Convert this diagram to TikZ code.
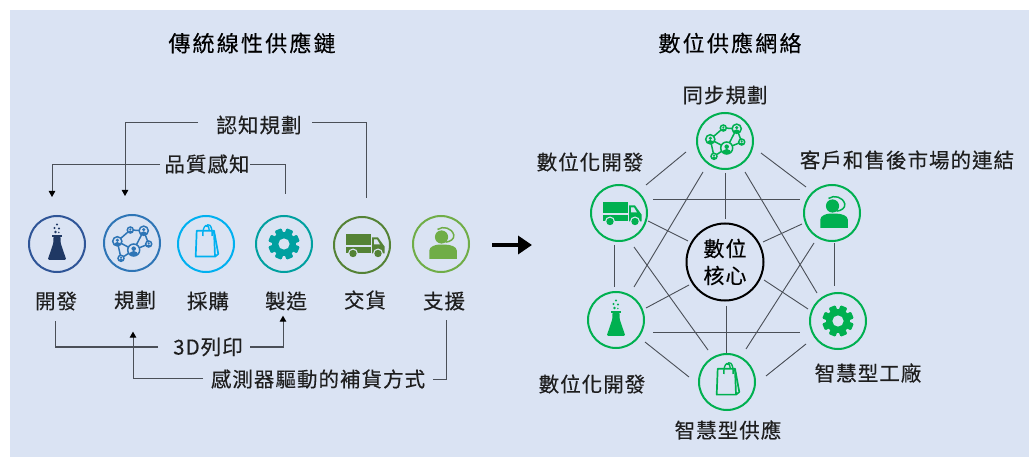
\documentclass[tikz,border=0pt]{standalone}
\usepackage{fontspec}
\setmainfont{Noto Sans CJK TC}
\usetikzlibrary{arrows.meta,calc}
\definecolor{panelbg}{HTML}{DAE3F3}
\definecolor{inktext}{HTML}{1E1E1E}
\definecolor{linkgrey}{HTML}{4A4F57}
\definecolor{cflaskline}{HTML}{2F5597}
\definecolor{cflask}{HTML}{1F3864}
\definecolor{cnet}{HTML}{2E75B6}
\definecolor{cbag}{HTML}{00B0F0}
\definecolor{cgear}{HTML}{00A0A0}
\definecolor{ctruck}{HTML}{548235}
\definecolor{cperson}{HTML}{70AD47}
\definecolor{cgreen}{HTML}{00B050}
\tikzset{
  ring/.style={circle,draw=#1,line width=2pt,minimum size=56pt,inner sep=0pt,outer sep=0pt},
  corering/.style={circle,draw=black,line width=2pt,minimum size=77pt,inner sep=0pt,align=center,text=black,font=\fontsize{21}{27}\selectfont\addfontfeature{LetterSpace=5,FakeBold=0.3}},
  lbl/.style={text=inktext,inner sep=0pt,font=\fontsize{20.5}{24}\selectfont\addfontfeature{LetterSpace=5,FakeBold=0.3}},
  ttl/.style={text=black,inner sep=0pt,font=\fontsize{22}{24}\selectfont\addfontfeature{LetterSpace=10,FakeBold=0.3}},
  link/.style={draw=linkgrey,line width=0.9pt},
  route/.style={draw=linkgrey,line width=1pt},
  arrowed/.style={route,-{Triangle[length=6pt,width=6.5pt,black]}},
  bigarrow/.style={draw=black,line width=4.6pt,-{Triangle[length=14pt,width=18pt]}}
}
% icons, drawn in a local frame centred on the named ring
\newcommand{\iconflask}[2]{\begin{scope}[shift={(#1)}]
  \fill[#2] (0,-19.5) circle (1.2) (-2.5,-16) circle (1.2) (2,-15.5) circle (1.2) (-1.5,-12) circle (1.4) (1.8,-11.5) circle (.8);
  \fill[#2] (-5.2,-9) rectangle (5.2,-7);
  \fill[#2,rounded corners=1.2pt] (-3.6,-7.5) -- (-3.6,-1) -- (-9.3,15.8) -- (9.3,15.8) -- (3.6,-1) -- (3.6,-7.5) -- cycle;
\end{scope}}
\newcommand{\netperson}[4]{% x y r colour
  \fill[panelbg] (#1,#2) circle (#3);
  \draw[#4,line width=1.5pt] (#1,#2) circle (#3);
  \begin{scope}
    \clip (#1,#2) circle (#3);
    \fill[#4] (#1,#2-0.22*#3) circle (0.38*#3);
    \fill[#4] (#1,#2+#3) ellipse (0.8*#3 and 0.85*#3);
  \end{scope}}
\newcommand{\iconnet}[2]{\begin{scope}[shift={(#1)}]
  \draw[#2,line width=1.5pt] (-14.7,-1.7) -- (-1.7,-13) -- (11.7,-12.3) -- (16.7,1) -- (1.7,7) -- (11.7,-12.3)
     (-14.7,-1.7) -- (1.7,7) -- (-11,15.3) -- (-14.7,-1.7);
  \netperson{1.7}{7}{6}{#2}
  \netperson{11.7}{-12.3}{4.6}{#2}
  \netperson{-14.7}{-1.7}{4.6}{#2}
  \netperson{-1.7}{-13}{3}{#2}
  \netperson{16.7}{1}{3}{#2}
  \netperson{-11}{15.3}{3}{#2}
\end{scope}}
\newcommand{\iconbag}[2]{\begin{scope}[shift={(#1)}]
  \draw[#2,line width=1.7pt,line join=round] (-9.3,-13.3) -- (8,-13.3) -- (9,12.6) -- (-10.3,12.6) -- cycle;
  \draw[#2,line width=1.7pt,line join=round] (8,-13.3) -- (12.3,10) -- (9,12.6);
  \draw[#2,line width=1.4pt] (-3.2,-8) .. controls (-3.6,-21) and (3.2,-21) .. (3.2,-13.3);
  \draw[#2,line width=1.4pt] (0,-17.5) .. controls (2,-21) and (6.5,-20) .. (6.2,-8);
\end{scope}}
\newcommand{\icongear}[2]{\begin{scope}[shift={(#1)}]
  \fill[#2] (0,0) circle (12);
  \foreach \a in {0,45,...,315}{
    \fill[#2,rounded corners=1pt,rotate=\a+22.5] (-3.6,-10) rectangle (3.6,-15.6);
  }
  \fill[panelbg] (0,0) circle (5.6);
\end{scope}}
\newcommand{\icontruck}[2]{\begin{scope}[shift={(#1)}]
  \fill[#2] (-16.5,-10.5) rectangle (8.5,0.5);
  \fill[#2] (-16.5,2.2) rectangle (8.5,8.5);
  \fill[#2] (10,-7.5) -- (16,-7.5) -- (22.5,1.5) -- (22.5,8.5) -- (10,8.5) -- cycle;
  \fill[panelbg] (12,-5.5) -- (15,-5.5) -- (18,-0.5) -- (12,-0.5) -- cycle;
  \fill[panelbg] (-9,8.5) circle (5) (16,8.5) circle (5);
  \fill[#2] (-9,8.5) circle (3.7) (16,8.5) circle (3.7);
\end{scope}}
\newcommand{\iconperson}[2]{\begin{scope}[shift={(#1)}]
  \fill[#2] (0.5,-7) circle (6.6);
  \draw[#2,line width=1.5pt] (-3.5,-14.5) .. controls (2,-18.5) and (11,-16) .. (12.8,-9) .. controls (13.2,-5) and (10,-2.5) .. (4.5,-1.8);
  \fill[#2] (-11.7,15) -- (-11.7,6.5) .. controls (-11.7,2.5) and (-5,0.7) .. (-3,0.7) -- (5,0.7) .. controls (9,0.7) and (15.8,2.5) .. (15.8,6.5) -- (15.8,15) -- cycle;
\end{scope}}
\newcommand{\conn}[6]{\draw[link] ($(#1)+(#2,#3)$) -- ($(#4)+(#5,#6)$);}
\begin{document}
\begin{tikzpicture}[x=1pt,y=-1pt]
\useasboundingbox (0,0) rectangle (1029,457);
\fill[white] (0,0) rectangle (1029,457);
\fill[panelbg] (10,10) rectangle (1029,457);

% titles
\node[ttl] (t1) at (252,43) {傳統線性供應鏈};
\node[ttl] (t2) at (730,43) {數位供應網絡};

% left chain
\node[ring=cflaskline] (dev) at (57,244) {};
\node[ring=cnet] (plan) at (132,243) {};
\node[ring=cbag] (buy) at (206,244) {};
\node[ring=cgear] (make) at (284,244) {};
\node[ring=ctruck] (ship) at (362,245) {};
\node[ring=cperson] (help) at (441,244) {};
\iconflask{dev}{cflask}
\iconnet{plan}{cnet}
\iconbag{buy}{cbag}
\icongear{make}{cgear}
\icontruck{ship}{ctruck}
\iconperson{help}{cperson}

\node[lbl] (ldev) at (56,301) {開發};
\node[lbl] (lplan) at (135,300) {規劃};
\node[lbl] (lbuy) at (208,301) {採購};
\node[lbl] (lmake) at (286,301) {製造};
\node[lbl] (lship) at (365,300) {交貨};
\node[lbl] (lhelp) at (444,301) {支援};

\coordinate (cogL) at (198,123);
\coordinate (cogR) at (312,123);
\coordinate (qualL) at (160,165);
\coordinate (qualR) at (250,165);
\coordinate (printL) at (158,347);
\coordinate (printR) at (250,347);
\coordinate (sensL) at (203,378);
\coordinate (sensR) at (433,379);
\node[lbl] (cog) at (259,125) {認知規劃};
\node[lbl] (qual) at (207,164) {品質感知};
\node[lbl] (print) at (208,347) {3D列印};
\node[lbl] (sens) at (318,379) {感測器驅動的補貨方式};

\draw[arrowed] (cogL) -| ($(plan)+(-7,-47)$);
\draw[route] (cogR) -| ($(ship)+(4,-47)$);
\draw[arrowed] (qualL) -| ($(dev)+(-5,-47)$);
\draw[route] (qualR) -| ($(make)+(1,-50)$);
\draw[route] (printL) -| ($(ldev.south)+(-1,10)$);
\draw[arrowed] (printR) -| ($(lmake.south)+(-3,5)$);
\draw[arrowed] (sensL) -| ($(lplan.south)+(-2,22)$);
\draw[route] (sensR) -| ($(lhelp.south)+(2,9)$);

% transition arrow
\coordinate (bigA) at (492,245);
\coordinate (bigB) at (532,245);
\draw[bigarrow] (bigA) -- (bigB);

% digital network
\node[ring=cgreen] (top) at (725,141) {};
\node[ring=cgreen] (truck) at (619,213) {};
\node[ring=cgreen] (person) at (832,213) {};
\node[ring=cgreen] (flask) at (616,320) {};
\node[ring=cgreen] (gear) at (838,321) {};
\node[ring=cgreen] (bag) at (727,382) {};
\node[corering] (core) at (725,262) {數位\\核心};
\iconnet{top}{cgreen}
\icontruck{truck}{cgreen}
\iconperson{person}{cgreen}
\iconflask{flask}{cgreen}
\icongear{gear}{cgreen}
\iconbag{bag}{cgreen}

\conn{top}{-39}{11}{truck}{27}{-28}
\conn{top}{36}{12}{person}{-26}{-26}
\conn{top}{0}{32}{core}{0}{-43}
\conn{top}{-22}{31}{flask}{18}{-33}
\conn{top}{20}{31}{gear}{-21}{-28}
\conn{truck}{34}{-14}{person}{-32}{-14}
\conn{truck}{29}{8}{core}{-37}{-21}
\conn{truck}{-5}{32}{flask}{-2}{-33}
\conn{truck}{15}{34}{bag}{-19}{-32}
\conn{person}{-30}{11}{core}{38}{-20}
\conn{person}{2}{30}{gear}{-4}{-35}
\conn{person}{-18}{30}{bag}{19}{-33}
\conn{flask}{30}{-12}{core}{-36}{23}
\conn{flask}{37}{12}{gear}{-38}{11}
\conn{flask}{29}{22}{bag}{-38}{-5}
\conn{gear}{-30}{-12}{core}{39}{18}
\conn{gear}{-32}{23}{bag}{39}{-6}
\conn{core}{1}{44}{bag}{-1}{-29}

\node[lbl] (ltop) at (725,95) {同步規劃};
\node[lbl] (ltruck) at (590,162) {數位化開發};
\node[lbl] (lperson) at (907,160) {客戶和售後市場的連結};
\node[lbl] (lflask) at (592,384) {數位化開發};
\node[lbl] (lgear) at (868,373) {智慧型工廠};
\node[lbl] (lbag) at (728,430) {智慧型供應};
\end{tikzpicture}
\end{document}
